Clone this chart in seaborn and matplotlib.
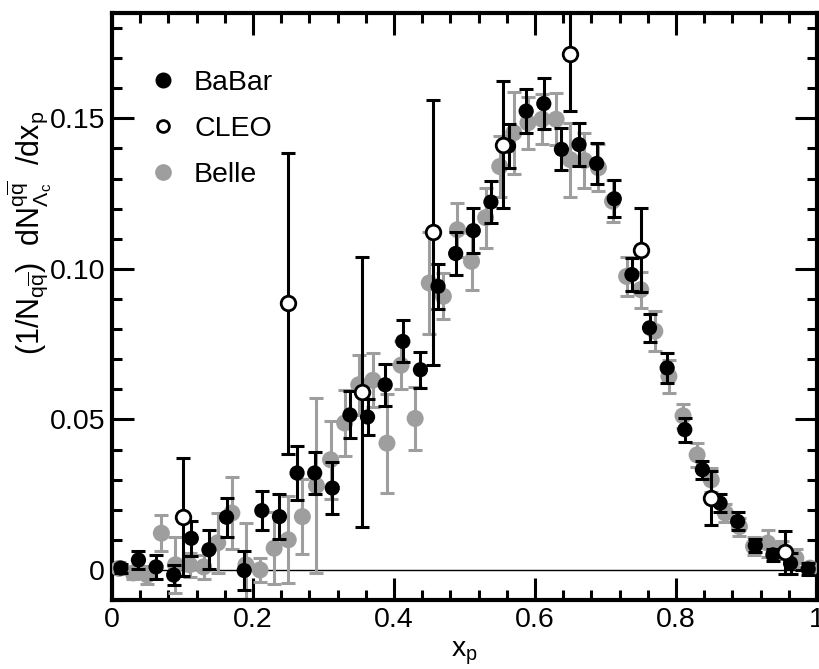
import matplotlib
matplotlib.use("Agg")
import matplotlib.pyplot as plt
from matplotlib.lines import Line2D
from matplotlib.ticker import MultipleLocator, FixedLocator, FixedFormatter
import seaborn as sns
import pandas as pd

# ---------------- data ----------------
babar_x = [0.0125, 0.0375, 0.0625, 0.0875, 0.1125, 0.1375, 0.1625, 0.1875, 0.2125, 0.2375,
           0.2625, 0.2875, 0.3125, 0.3375, 0.3625, 0.3875, 0.4125, 0.4375, 0.4625, 0.4875,
           0.5125, 0.5375, 0.5625, 0.5875, 0.6125, 0.6375, 0.6625, 0.6875, 0.7125, 0.7375,
           0.7625, 0.7875, 0.8125, 0.8375, 0.8625, 0.8875, 0.9125, 0.9375, 0.9625, 0.9875]
babar_y = [0.0006, 0.0033, 0.0010, -0.0017, 0.0105, 0.0067, 0.0175, -0.0002, 0.0197, 0.0177,
           0.0322, 0.0322, 0.0272, 0.0515, 0.0508, 0.0615, 0.0759, 0.0665, 0.0942, 0.1051,
           0.1127, 0.1222, 0.1408, 0.1524, 0.1549, 0.1397, 0.1413, 0.1350, 0.1233, 0.0981,
           0.0804, 0.0671, 0.0466, 0.0333, 0.0222, 0.0161, 0.0081, 0.0050, 0.0022, 0.0003]
babar_err = [0.0015, 0.0030, 0.0040, 0.0033, 0.0058, 0.0065, 0.0065, 0.0065, 0.0064, 0.0074,
             0.0090, 0.0070, 0.0085, 0.0078, 0.0060, 0.0070, 0.0070, 0.0060, 0.0075, 0.0073,
             0.0075, 0.0070, 0.0072, 0.0073, 0.0085, 0.0070, 0.0070, 0.0068, 0.0061, 0.0054,
             0.0047, 0.0050, 0.0040, 0.0030, 0.0030, 0.0030, 0.0022, 0.0020, 0.0035, 0.0020]

cleo_x = [0.100, 0.250, 0.355, 0.455, 0.555, 0.650, 0.750, 0.850, 0.955]
cleo_y = [0.0176, 0.0885, 0.0591, 0.1122, 0.1413, 0.1713, 0.1062, 0.0238, 0.0058]
cleo_err = [0.0196, 0.0500, 0.0450, 0.0440, 0.0210, 0.0190, 0.0140, 0.0090, 0.0070]

belle_x = [0.01, 0.03, 0.05, 0.07, 0.09, 0.11, 0.13, 0.15, 0.17, 0.19,
           0.21, 0.23, 0.25, 0.27, 0.29, 0.31, 0.33, 0.35, 0.37, 0.39,
           0.41, 0.43, 0.45, 0.47, 0.49, 0.51, 0.53, 0.55, 0.57, 0.59,
           0.61, 0.63, 0.65, 0.67, 0.69, 0.71, 0.73, 0.75, 0.77, 0.79,
           0.81, 0.83, 0.85, 0.87, 0.89, 0.91, 0.93, 0.95, 0.97, 0.99]
belle_y = [0.0005, -0.0010, -0.0017, 0.0122, 0.0017, 0.0017, 0.0010, 0.0090, 0.0189, 0.0017,
           0.0000, 0.0072, 0.0100, 0.0177, 0.0280, 0.0366, 0.0488, 0.0615, 0.0630, 0.0421,
           0.0680, 0.0503, 0.0953, 0.0909, 0.1130, 0.1025, 0.1170, 0.1340, 0.1452, 0.1485,
           0.1497, 0.1497, 0.1363, 0.1360, 0.1336, 0.1225, 0.0975, 0.0931, 0.0793, 0.0643,
           0.0512, 0.0382, 0.0299, 0.0189, 0.0144, 0.0078, 0.0089, 0.0067, 0.0039, 0.0006]
belle_err = [0.0020, 0.0020, 0.0030, 0.0060, 0.0094, 0.0040, 0.0040, 0.0100, 0.0120, 0.0140,
             0.0040, 0.0120, 0.0144, 0.0125, 0.0290, 0.0130, 0.0110, 0.0100, 0.0090, 0.0164,
             0.0080, 0.0103, 0.0170, 0.0077, 0.0090, 0.0095, 0.0100, 0.0100, 0.0136, 0.0087,
             0.0083, 0.0087, 0.0123, 0.0090, 0.0078, 0.0070, 0.0064, 0.0060, 0.0066, 0.0055,
             0.0040, 0.0040, 0.0040, 0.0030, 0.0030, 0.0030, 0.0045, 0.0030, 0.0030, 0.0020]

legend_labels = ["BaBar", "CLEO", "Belle"]
x_ticks = [0, 0.2, 0.4, 0.6, 0.8, 1.0]
x_ticklabels = ["0", "0.2", "0.4", "0.6", "0.8", "1"]
y_ticks = [0, 0.05, 0.10, 0.15]
y_ticklabels = ["0", "0.05", "0.10", "0.15"]

# ---------------- style ----------------
sns.set_theme(style="ticks")
plt.rcParams["font.family"] = ["Liberation Sans", "DejaVu Sans"]
plt.rcParams["mathtext.fontset"] = "custom"
plt.rcParams["mathtext.rm"] = "Liberation Sans"
plt.rcParams["mathtext.it"] = "Liberation Sans:italic"
plt.rcParams["mathtext.bf"] = "Liberation Sans:bold"
plt.rcParams["text.color"] = "black"
plt.rcParams["axes.labelcolor"] = "black"
plt.rcParams["xtick.color"] = "black"
plt.rcParams["ytick.color"] = "black"

GRAY = "#9e9e9e"
FS = 20.5

fig = plt.figure(figsize=(8.2, 6.69), dpi=100)
ax = fig.add_axes([0.1366, 0.1031, 0.8597, 0.8775])

ax.axhline(0, color="black", lw=1.0, zorder=1)

belle = pd.DataFrame({"x": belle_x, "y": belle_y})
babar = pd.DataFrame({"x": babar_x, "y": babar_y})
cleo = pd.DataFrame({"x": cleo_x, "y": cleo_y})

# Belle (gray)
ax.errorbar(belle_x, belle_y, yerr=belle_err, fmt="none", ecolor=GRAY,
            elinewidth=2.2, capsize=5, capthick=2.2, zorder=2)
sns.scatterplot(data=belle, x="x", y="y", ax=ax, color=GRAY, s=150,
                edgecolor="none", linewidth=0, zorder=3, legend=False)

# BaBar (black)
ax.errorbar(babar_x, babar_y, yerr=babar_err, fmt="none", ecolor="black",
            elinewidth=2.2, capsize=5, capthick=2.2, zorder=4)
sns.scatterplot(data=babar, x="x", y="y", ax=ax, color="black", s=120,
                edgecolor="none", linewidth=0, zorder=5, legend=False)

# CLEO (open)
ax.errorbar(cleo_x, cleo_y, yerr=cleo_err, fmt="none", ecolor="black",
            elinewidth=2.2, capsize=5, capthick=2.2, zorder=6)
sns.scatterplot(data=cleo, x="x", y="y", ax=ax, color="white", s=110,
                edgecolor="black", linewidth=2.0, zorder=7, legend=False)

ax.set_xlim(0, 1)
ax.set_ylim(-0.01, 0.185)

ax.xaxis.set_major_locator(FixedLocator(x_ticks))
ax.xaxis.set_major_formatter(FixedFormatter(x_ticklabels))
ax.yaxis.set_major_locator(FixedLocator(y_ticks))
ax.yaxis.set_major_formatter(FixedFormatter(y_ticklabels))
ax.xaxis.set_minor_locator(MultipleLocator(0.04))
ax.yaxis.set_minor_locator(MultipleLocator(0.01))

ax.tick_params(which="both", direction="in", top=True, right=True,
               color="black", labelcolor="black")
ax.tick_params(which="major", length=16, width=2.2, labelsize=FS, pad=5)
ax.tick_params(which="minor", length=7, width=2.2)

for sp in ax.spines.values():
    sp.set_linewidth(3.0)
    sp.set_color("black")

ax.set_xlabel(r"$\mathrm{x}_{\mathrm{p}}$", fontsize=FS, labelpad=5, color="black")
ax.set_ylabel(r"$(1/\mathrm{N}_{\mathrm{q\overline{q}}})\ \ \mathrm{dN}^{\mathrm{q\overline{q}}}_{\Lambda_{\mathrm{c}}}\ \ /\mathrm{dx}_{\mathrm{p}}$",
              fontsize=22, color="black")
ax.yaxis.set_label_coords(-0.083, 0.625)

handles = [
    Line2D([], [], ls="", marker="o", ms=10.5, mfc="black", mec="black"),
    Line2D([], [], ls="", marker="o", ms=8.5, mfc="white", mec="black", mew=2.0),
    Line2D([], [], ls="", marker="o", ms=11, mfc=GRAY, mec=GRAY),
]
leg = ax.legend(handles, legend_labels, loc="upper left", bbox_to_anchor=(0.0525, 0.903),
                frameon=False, fontsize=FS, handlelength=1.0, handletextpad=0.58,
                borderpad=0, borderaxespad=0, labelspacing=0.71)
for t in leg.get_texts():
    t.set_color("black")

fig.savefig("out.png", dpi=100)
